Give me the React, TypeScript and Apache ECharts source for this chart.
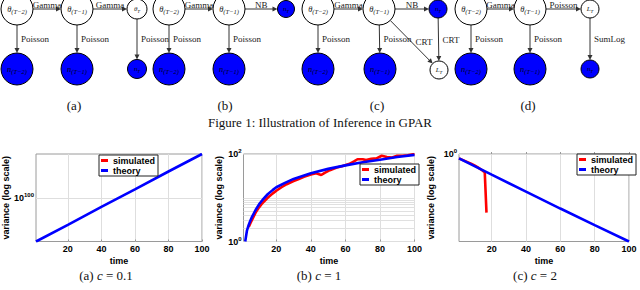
import { useEffect, useRef } from 'react';
import * as echarts from 'echarts';

// ---------------- Figure 2 data (values are log10 of the variance) ----------------
const xTickValues = [20, 40, 60, 80, 100];

// (a) c = 0.1
const timeTheoryA = [1, 20, 40, 60, 80, 100];
const theoryLogA = [0, 38, 79, 119, 160, 200];
const timeSimA: number[] = [];
const simulatedLogA: number[] = [];
const yTickA = [100];

// (b) c = 1
const timeTheoryB = [2, 3, 4, 5, 6, 8, 10, 12, 15, 18, 20, 25, 30, 40, 50, 60, 70, 80, 90, 100];
const theoryLogB = [0, 0.25, 0.38, 0.48, 0.57, 0.72, 0.85, 0.95, 1.08, 1.18, 1.24, 1.34, 1.43, 1.56, 1.66, 1.74, 1.81, 1.87, 1.93, 1.98];
const timeSimB = [4, 5, 8, 10, 12, 15, 18, 20, 23, 26, 30, 33, 36, 40, 43, 46, 48, 51, 55, 58, 62, 65, 67, 70, 72, 75, 78, 81, 84, 87, 90, 93, 96, 100];
const simulatedLogB = [0.33, 0.42, 0.66, 0.78, 0.88, 1.0, 1.1, 1.16, 1.24, 1.31, 1.38, 1.43, 1.48, 1.53, 1.56, 1.52, 1.57, 1.63, 1.69, 1.72, 1.77, 1.83, 1.88, 1.88, 1.86, 1.89, 1.9, 1.96, 1.93, 1.92, 1.96, 1.96, 1.97, 2.0];
const yTickB = [0, 2];
const minorGridVarianceB = [2, 3, 4, 5, 6, 7, 8, 9, 10];

// (c) c = 2
const timeTheoryC = [1, 20, 40, 60, 80, 100];
const theoryLogC = [-1.5, -7.1, -12.9, -18.7, -24.4, -30];
const timeSimC = [1, 8, 10, 12, 14, 15, 16, 17];
const simulatedLogC = [-1.5, -3.3, -3.9, -4.6, -5.4, -5.8, -6.3, -20.1];
const yTickC = [0];

const legendNames = ['simulated', 'theory'];
const chartCaptions = [['(a)', '0.1'], ['(b)', '1'], ['(c)', '2']];

// ---------------- Figure 1 (graphical models) ----------------
const diagramNodes = [
  { id: 'a1', sym: 'θ', sub: '(T−2)', filled: false },
  { id: 'a2', sym: 'θ', sub: '(T−1)', filled: false },
  { id: 'a3', sym: 'θ', sub: 'T', filled: false },
  { id: 'a4', sym: 'n', sub: '(T−2)', filled: true },
  { id: 'a5', sym: 'n', sub: '(T−1)', filled: true },
  { id: 'a6', sym: 'n', sub: 'T', filled: true },
  { id: 'b1', sym: 'θ', sub: '(T−2)', filled: false },
  { id: 'b2', sym: 'θ', sub: '(T−1)', filled: false },
  { id: 'b3', sym: 'n', sub: 'T', filled: true },
  { id: 'b4', sym: 'n', sub: '(T−2)', filled: true },
  { id: 'b5', sym: 'n', sub: '(T−1)', filled: true },
  { id: 'c1', sym: 'θ', sub: '(T−2)', filled: false },
  { id: 'c2', sym: 'θ', sub: '(T−1)', filled: false },
  { id: 'c3', sym: 'n', sub: 'T', filled: true },
  { id: 'c4', sym: 'n', sub: '(T−2)', filled: true },
  { id: 'c5', sym: 'n', sub: '(T−1)', filled: true },
  { id: 'c6', sym: 'L', sub: 'T', filled: false },
  { id: 'd1', sym: 'θ', sub: '(T−2)', filled: false },
  { id: 'd2', sym: 'θ', sub: '(T−1)', filled: false },
  { id: 'd3', sym: 'L', sub: 'T', filled: false },
  { id: 'd4', sym: 'n', sub: '(T−2)', filled: true },
  { id: 'd5', sym: 'n', sub: '(T−1)', filled: true },
  { id: 'd6', sym: 'n', sub: 'T', filled: true },
];
const diagramEdges = [
  ['a1', 'a2', 'Gamma'], ['a2', 'a3', 'Gamma'], ['a1', 'a4', 'Poisson'], ['a2', 'a5', 'Poisson'], ['a3', 'a6', 'Poisson'],
  ['b1', 'b2', 'Gamma'], ['b2', 'b3', 'NB'], ['b1', 'b4', 'Poisson'], ['b2', 'b5', 'Poisson'],
  ['c1', 'c2', 'Gamma'], ['c2', 'c3', 'NB'], ['c1', 'c4', 'Poisson'], ['c2', 'c5', 'Poisson'], ['c2', 'c6', 'CRT'], ['c3', 'c6', 'CRT'],
  ['d1', 'd2', 'Gamma'], ['d2', 'd3', 'Poisson'], ['d1', 'd4', 'Poisson'], ['d2', 'd5', 'Poisson'], ['d3', 'd6', 'SumLog'],
];
const panelLabels = ['(a)', '(b)', '(c)', '(d)'];

// layout (pixels) for the diagram
const nodeLayout: Record<string, [number, number, number]> = {
  a1: [17, 9, 16], a2: [77, 9, 16], a3: [137, 9, 10], a4: [17, 69, 16], a5: [77, 69, 16], a6: [137, 69, 9.5],
  b1: [169, 9, 16], b2: [229, 9, 16], b3: [286, 9, 8.5], b4: [169, 69, 16], b5: [229, 69, 16],
  c1: [318, 9, 16], c2: [379, 9, 16], c3: [438, 9, 9], c4: [318, 69, 16], c5: [380, 69, 16], c6: [439, 70, 9],
  d1: [471, 9, 16], d2: [530, 9, 16], d3: [590, 9, 9], d4: [471, 69, 16], d5: [530, 69, 16], d6: [590, 69, 9],
};
const panelLabelX = [74, 225, 377, 528];

const SANS = '"Liberation Sans", Arial, Helvetica, sans-serif';
const SERIF = '"Liberation Serif", "Times New Roman", serif';

const zip = (xs: number[], ys: number[]) => xs.map((x, i) => [x, ys[i]]);

function centered(text: string, x: number, y: number, size: number, extra: any = {}) {
  return {
    type: 'text', x, y, z: 10,
    style: {
      text, fontSize: size, fontFamily: SERIF, fill: '#111',
      align: 'center', verticalAlign: 'middle', textAlign: 'center', textVerticalAlign: 'middle',
      ...extra,
    },
  };
}

function buildDiagram(): any[] {
  const els: any[] = [];
  const ink = '#333';
  diagramEdges.forEach(([f, t, label]) => {
    const [x1, y1, r1] = nodeLayout[f];
    const [x2, y2, r2] = nodeLayout[t];
    const dx = x2 - x1, dy = y2 - y1;
    const len = Math.hypot(dx, dy);
    const ux = dx / len, uy = dy / len;
    const sx = x1 + ux * r1, sy = y1 + uy * r1;
    const ex = x2 - ux * r2, ey = y2 - uy * r2;
    els.push({ type: 'line', z: 1, shape: { x1: sx, y1: sy, x2: ex - ux * 3, y2: ey - uy * 3 }, style: { stroke: ink, lineWidth: 1 } });
    const bx = ex - ux * 5, by = ey - uy * 5;
    const px = -uy * 2.5, py = ux * 2.5;
    els.push({ type: 'polygon', z: 1, shape: { points: [[ex, ey], [bx + px, by + py], [bx - px, by - py]] }, style: { fill: ink } });
    const mx = (sx + ex) / 2, my = (sy + ey) / 2;
    const horizontal = Math.abs(dy) < Math.abs(dx) * 0.2;
    els.push({
      type: 'text', z: 3,
      x: horizontal ? mx : mx + 4,
      y: horizontal ? 4.5 : my,
      style: {
        text: label, fontSize: 9, fontFamily: SERIF, fill: '#222',
        align: horizontal ? 'center' : 'left', verticalAlign: 'middle',
        textAlign: horizontal ? 'center' : 'left', textVerticalAlign: 'middle',
      },
    });
  });
  diagramNodes.forEach((n) => {
    const [x, y, r] = nodeLayout[n.id];
    els.push({ type: 'circle', z: 2, shape: { cx: x, cy: y, r }, style: { fill: n.filled ? '#0000ff' : '#fff', stroke: '#000', lineWidth: 1 } });
    const big = r > 12;
    const col = n.filled ? '#000022' : '#222';
    els.push({
      type: 'text', x, y, z: 4,
      style: {
        text: `{m|${n.sym}}{s|${n.sub}}`,
        align: 'center', verticalAlign: 'middle', textAlign: 'center', textVerticalAlign: 'middle',
        rich: {
          m: { fontSize: big ? 8.5 : 7, fontStyle: 'italic', fontFamily: SERIF, fill: col },
          s: { fontSize: big ? 6.5 : 5, fontStyle: 'italic', fontFamily: SERIF, fill: col, padding: [4, 0, 0, 0] },
        },
      },
    });
  });
  panelLabels.forEach((t, i) => els.push(centered(t, panelLabelX[i], 105, 13)));
  els.push(centered('Figure 1: Illustration of Inference in GPAR', 320, 122, 13));
  const capX = [106, 319, 535];
  chartCaptions.forEach(([p, c], i) => {
    els.push(centered(`${p} {i|c} = ${c}`, capX[i], 275, 13, {
      rich: { i: { fontSize: 13, fontStyle: 'italic', fontFamily: SERIF, fill: '#111' } },
    }));
  });
  els.push(centered('Figure 2: Plots of Variance', 320, 294, 13));
  return els;
}

const grids = [
  { left: 33.5, top: 154, width: 168.5, height: 87.5 },
  { left: 243.5, top: 154, width: 171, height: 87.5 },
  { left: 459, top: 154, width: 170, height: 87.5 },
];

function makeX(i: number) {
  return {
    type: 'value', gridIndex: i, min: 1, max: 100,
    axisLine: { show: false },
    axisTick: { show: true, inside: true, length: 2, customValues: xTickValues, lineStyle: { color: '#999' } },
    axisLabel: { customValues: xTickValues, color: '#000', fontSize: 9, fontWeight: 'bold', fontFamily: SANS, margin: 3 },
    splitLine: { show: true, lineStyle: { color: '#dedede', width: 1 } },
    name: 'time', nameLocation: 'middle', nameGap: 15,
    nameTextStyle: { color: '#000', fontSize: 9, fontWeight: 'bold', fontFamily: SANS },
  };
}

function makeY(i: number, min: number, max: number, ticks: number[], nameGap: number) {
  return {
    type: 'value', gridIndex: i, min, max,
    axisLine: { show: false },
    axisTick: { show: false, customValues: ticks },
    axisLabel: {
      customValues: ticks, color: '#000', fontSize: 9, fontWeight: 'bold', fontFamily: SANS, margin: 2,
      formatter: (v: number) => `10{s|${v}}`,
      rich: { s: { fontSize: 6, fontWeight: 'bold', fontFamily: SANS, color: '#000', padding: [0, 0, 6, 0] } },
    },
    splitLine: { show: true, lineStyle: { color: '#dedede', width: 1 } },
    name: 'variance (log scale)', nameLocation: 'middle', nameGap,
    nameTextStyle: { color: '#000', fontSize: 9, fontWeight: 'bold', fontFamily: SANS },
  };
}

function lineSeries(name: string, i: number, data: number[][], color: string, z: number) {
  return {
    name, type: 'line', xAxisIndex: i, yAxisIndex: i, data, color, z,
    showSymbol: false, symbol: 'none', silent: true,
    lineStyle: { color, width: 2.6 },
  };
}

function makeLegend(left: number, top: number) {
  return {
    data: legendNames, orient: 'vertical', left, top, selectedMode: false, z: 10,
    backgroundColor: '#fff', borderColor: '#222', borderWidth: 1, borderRadius: 0,
    padding: [1, 3, 1, 2], itemGap: 1, itemWidth: 7, itemHeight: 3, icon: 'rect',
    textStyle: { color: '#000', fontSize: 9, fontWeight: 'bold', fontFamily: SANS },
  };
}

export default function App() {
  const ref = useRef<HTMLDivElement>(null);
  useEffect(() => {
    if (!ref.current) return;
    const chart = echarts.init(ref.current, undefined, { renderer: 'svg' });
    const option: any = {
      animation: false,
      backgroundColor: '#fff',
      textStyle: { fontFamily: SANS },
      grid: grids.map((g) => ({ ...g, show: true, borderColor: '#9a9a9a', borderWidth: 1, backgroundColor: 'transparent', containLabel: false })),
      xAxis: [makeX(0), makeX(1), makeX(2)],
      yAxis: [makeY(0, 0, 200, yTickA, 26), makeY(1, 0, 2, yTickB, 20), makeY(2, -30, 0, yTickC, 24)],
      legend: [makeLegend(99, 155), makeLegend(360, 164), makeLegend(577, 154)],
      series: [
        {
          type: 'line', xAxisIndex: 1, yAxisIndex: 1, data: [], z: 1, silent: true,
          markLine: {
            silent: true, symbol: 'none', animation: false, label: { show: false }, z: 1,
            lineStyle: { color: '#e0e0e0', width: 1, type: 'solid' },
            data: minorGridVarianceB.map((v) => ({ yAxis: Math.log10(v) })),
          },
        },
        lineSeries('simulated', 0, zip(timeSimA, simulatedLogA), '#ff0000', 2),
        lineSeries('theory', 0, zip(timeTheoryA, theoryLogA), '#0000ff', 3),
        lineSeries('simulated', 1, zip(timeSimB, simulatedLogB), '#ff0000', 2),
        lineSeries('theory', 1, zip(timeTheoryB, theoryLogB), '#0000ff', 3),
        lineSeries('simulated', 2, zip(timeSimC, simulatedLogC), '#ff0000', 2),
        lineSeries('theory', 2, zip(timeTheoryC, theoryLogC), '#0000ff', 3),
      ],
      graphic: { elements: buildDiagram() },
    };
    chart.setOption(option);
    return () => chart.dispose();
  }, []);
  return <div ref={ref} style={{ position: 'fixed', left: 0, top: 0, width: 640, height: 290 }} />;
}
